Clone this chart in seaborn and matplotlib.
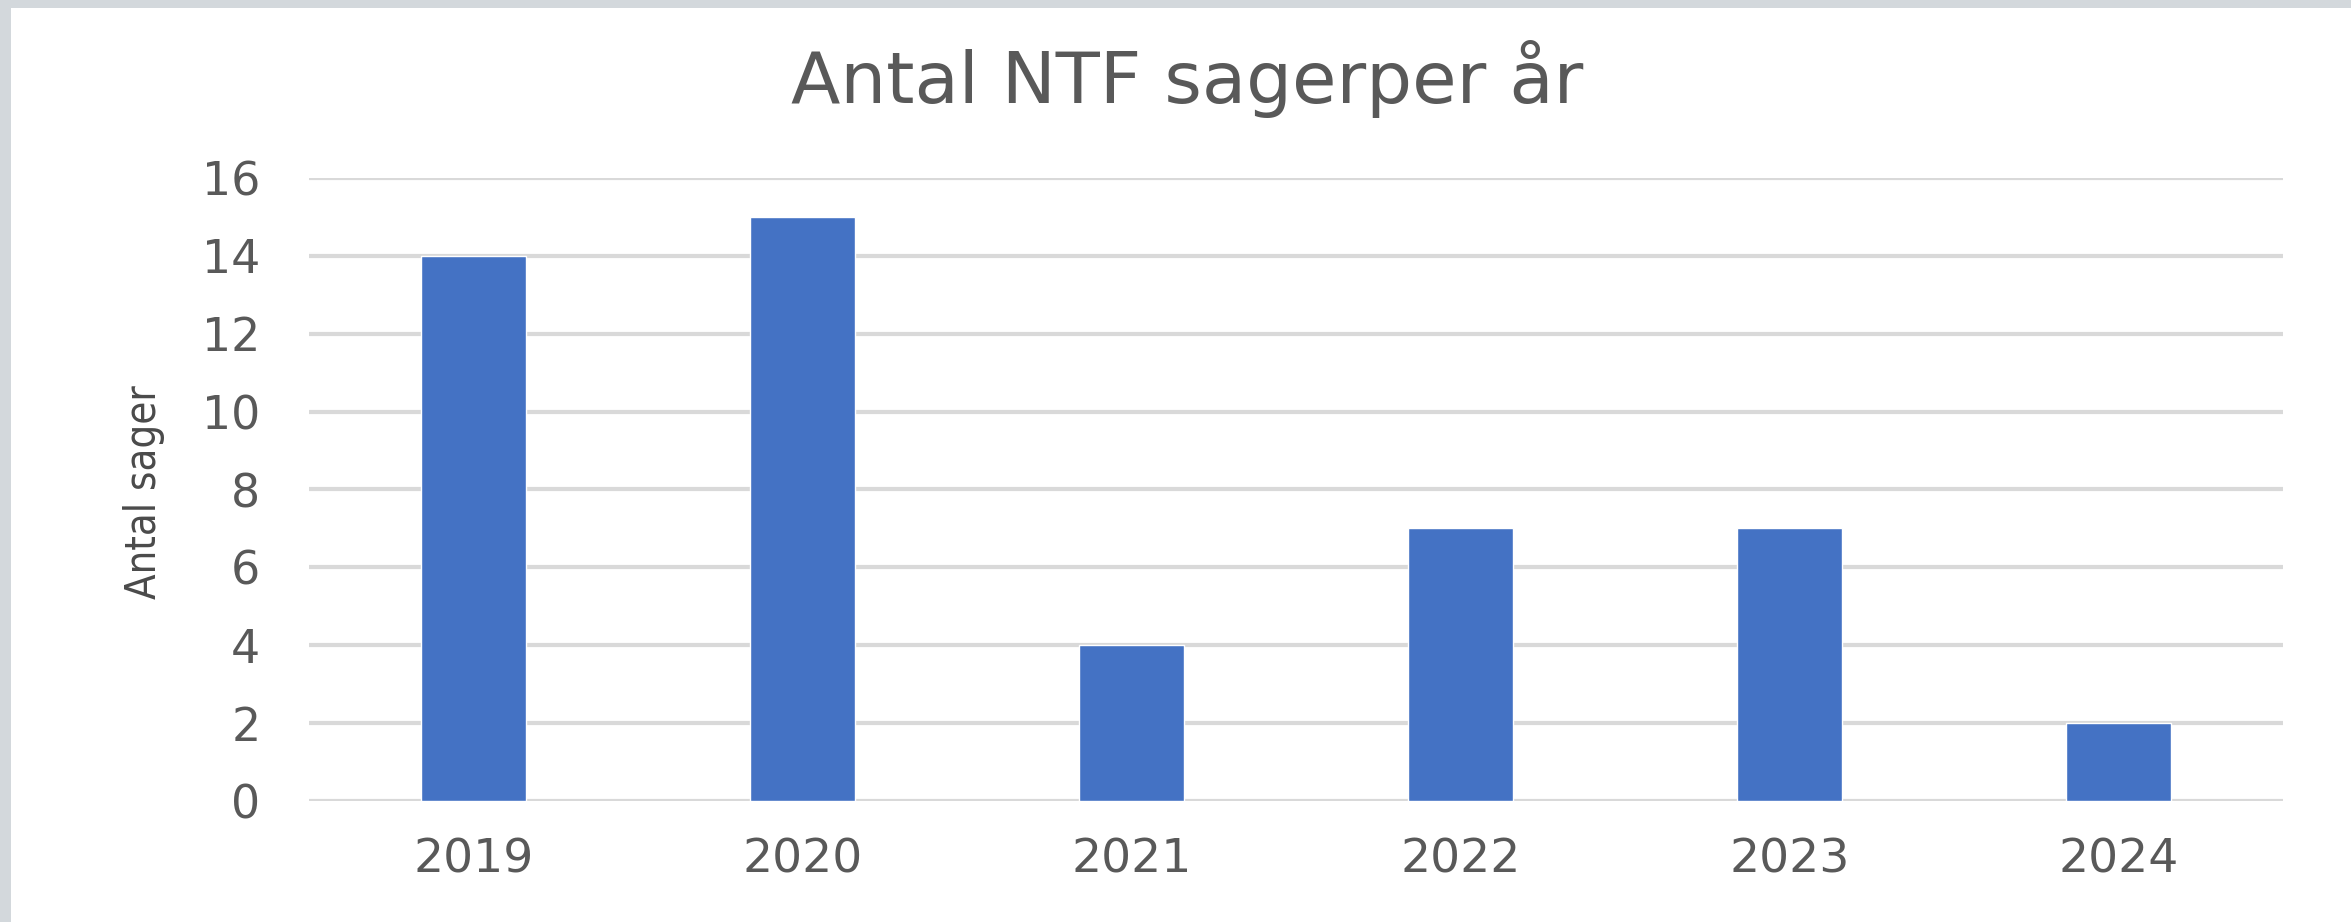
import matplotlib
matplotlib.use('Agg')
import matplotlib.pyplot as plt
from matplotlib.patches import Rectangle
import seaborn as sns

aar = ['2019', '2020', '2021', '2022', '2023', '2024']
antal_sager = [14, 15, 4, 7, 7, 2]
y_ticks = [0, 2, 4, 6, 8, 10, 12, 14, 16]

W, H = 2351, 922
tekst_farve = '#595959'

sns.set_style('white')
plt.rcParams['font.family'] = ['DejaVu Sans']

fig = plt.figure(figsize=(W / 100, H / 100), dpi=100)
fig.patch.set_facecolor('#d3d8dc')
fig.add_artist(Rectangle((11 / W, 0), 1, 1 - 8 / H, transform=fig.transFigure,
                         facecolor='white', edgecolor='none', zorder=0))

ax = fig.add_axes([309 / W, 1 - 801 / H, (2283 - 309) / W, (801 - 178) / H])
ax.set_facecolor('white')
sns.barplot(x=aar, y=antal_sager, color='#4472C4', saturation=1, width=0.32, ax=ax)

ax.set_ylim(0, 16)
ax.set_yticks(y_ticks)
ax.set_axisbelow(True)
ax.grid(axis='y', color='#d9d9d9', linewidth=3)
ax.grid(axis='x', visible=False)
sns.despine(ax=ax, left=True, bottom=True)
ax.tick_params(axis='y', length=0, pad=35, labelsize=33, labelcolor=tekst_farve)
ax.tick_params(axis='x', length=0, pad=26, labelsize=34, labelcolor=tekst_farve)
ax.set_xlabel('')
ax.set_ylabel('Antal sager', fontsize=30, color='#4a4a4a', va='center',
              family='DejaVu Sans', fontstretch='condensed')
ax.yaxis.set_label_coords((144 - 309) / (2283 - 309), (801 - 492) / (801 - 178))

fig.text(1187 / W, 1 - 103 / H, 'Antal NTF sagerper år', ha='center', va='baseline',
         fontsize=52, color=tekst_farve)

fig.savefig('out.png', dpi=100, facecolor=fig.get_facecolor())
